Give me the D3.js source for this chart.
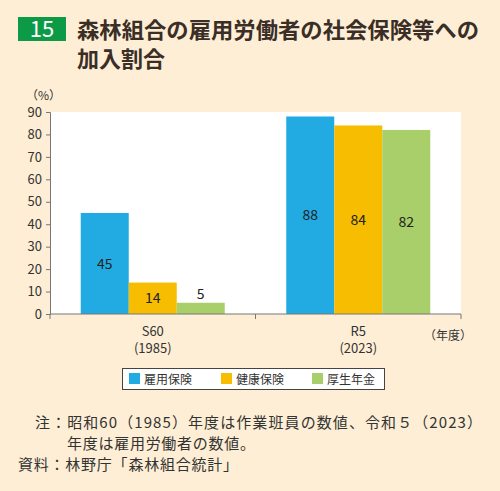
<!DOCTYPE html><html><head><meta charset="utf-8"><script src="https://cdn.jsdelivr.net/npm/d3@7"></script>
<style>body{margin:0;background:#fdeed5}text{font-family:"Noto Sans CJK JP","Noto Sans",sans-serif}</style></head><body><svg id="c" width="500" height="491"></svg><script>
const categories=["S60","R5"];
const years=["(1985)","(2023)"];
const seriesNames=["雇用保険","健康保険","厚生年金"];
const colors=["#22abe2","#f7bd00","#a9cf6a"];
const koyou=[45,88];
const kenkou=[14,84];
const kousei=[5,82];
const yTicks=[0,10,20,30,40,50,60,70,80,90];
const vals=[koyou,kenkou,kousei];
const svg=d3.select("#c");
svg.append("rect").attr("width",500).attr("height",491).attr("fill","#fdeed5");
svg.append("rect").attr("x",18).attr("y",17).attr("width",48).attr("height",24).attr("fill","#0d9a47");
svg.append("text").attr("x",42).attr("y",37).attr("text-anchor","middle").attr("fill","#fff").attr("font-size",22).attr("font-family","Liberation Sans").text("15");
svg.append("text").attr("x",77).attr("y",38).attr("font-size",22).attr("font-weight","bold").attr("fill","#3a2e27").attr("textLength",402).attr("lengthAdjust","spacingAndGlyphs").text("森林組合の雇用労働者の社会保険等への");
svg.append("text").attr("x",77).attr("y",67).attr("font-size",22).attr("font-weight","bold").attr("fill","#3a2e27").text("加入割合");
const L=50,R=461,T=112,B=314;
svg.append("rect").attr("x",L).attr("y",T).attr("width",R-L).attr("height",B-T).attr("fill","#fff");
const y=d3.scaleLinear().domain([0,90]).range([B,T]);
const x=d3.scaleBand().domain(categories).range([L,R]);
const xi=d3.scaleBand().domain(seriesNames).range([-72,72]);
const ya=svg.append("g").attr("transform",`translate(${L},0)`).call(d3.axisLeft(y).tickValues(yTicks).tickSize(4).tickPadding(4));
ya.selectAll("text").attr("font-size",13).attr("fill","#333").attr("font-family","Liberation Sans");
ya.selectAll("line,path").attr("stroke","#777");
svg.append("text").attr("x",26).attr("y",100).attr("font-size",12).attr("fill","#333").text("（%）");
seriesNames.forEach((s,i)=>{
  categories.forEach((c,j)=>{
    const cx=x(c)+x.bandwidth()/2+xi(s);
    svg.append("rect").attr("x",cx).attr("y",y(vals[i][j])).attr("width",xi.bandwidth()).attr("height",B-y(vals[i][j])).attr("fill",colors[i]);
    const ty=vals[i][j]<10?y(vals[i][j])-4:(y(vals[i][j])+B)/2+5;
    svg.append("text").attr("x",cx+xi.bandwidth()/2).attr("y",ty).attr("text-anchor","middle").attr("font-size",14).attr("fill","#222").attr("font-family","Liberation Sans").text(vals[i][j]);
  });
});
svg.append("line").attr("x1",L).attr("x2",R).attr("y1",B).attr("y2",B).attr("stroke","#777");
[L,(L+R)/2,R].forEach(v=>svg.append("line").attr("x1",v).attr("x2",v).attr("y1",B).attr("y2",B+5).attr("stroke","#777"));
categories.forEach((c,j)=>{
  const cx=x(c)+x.bandwidth()/2;
  svg.append("text").attr("x",cx).attr("y",336).attr("text-anchor","middle").attr("font-size",13).attr("fill","#333").text(c);
  svg.append("text").attr("x",cx).attr("y",353).attr("text-anchor","middle").attr("font-size",13).attr("fill","#333").text(years[j]);
});
svg.append("text").attr("x",424).attr("y",340).attr("font-size",12).attr("fill","#333").text("（年度）");
svg.append("rect").attr("x",122.5).attr("y",368.5).attr("width",262).attr("height",21).attr("fill","#fff").attr("stroke","#444");
const lx=[129,221,312];
seriesNames.forEach((s,i)=>{
  svg.append("rect").attr("x",lx[i]).attr("y",373).attr("width",11).attr("height",11).attr("fill",colors[i]);
  svg.append("text").attr("x",lx[i]+15).attr("y",384).attr("font-size",12).attr("fill","#333").text(s);
});
const notes=[[35,428,"注：昭和60（1985）年度は作業班員の数値、令和５（2023）",447],[67,449,"年度は雇用労働者の数値。",188],[18,470,"資料：林野庁「森林組合統計」",220]];
notes.forEach(n=>svg.append("text").attr("x",n[0]).attr("y",n[1]).attr("font-size",15).attr("fill","#333").attr("textLength",n[3]).attr("lengthAdjust","spacing").text(n[2]));
</script></body></html>
